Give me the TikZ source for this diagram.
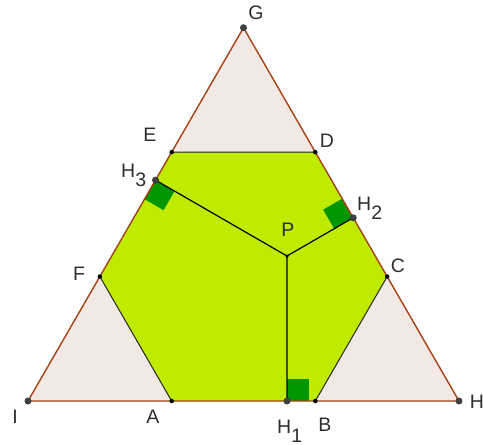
\documentclass[tikz,border=0pt]{standalone}
\usepackage{fontspec}
\setmainfont{Liberation Sans}
\usetikzlibrary{calc}

\definecolor{edgebrown}{RGB}{165,65,20}
\definecolor{cornerpink}{RGB}{243,233,228}
\definecolor{hexgreen}{RGB}{191,235,0}
\definecolor{anglegreen}{RGB}{0,150,0}
\definecolor{ptgrey}{RGB}{64,64,64}
\definecolor{lblgrey}{RGB}{45,45,45}

\newcommand{\lowidx}[1]{\raisebox{-9pt}{#1}}

\begin{document}
\begin{tikzpicture}[x=1pt, y=-1pt,
  bigpt/.style={circle, fill=ptgrey, inner sep=0pt, minimum size=7pt},
  smallpt/.style={circle, fill=black, inner sep=0pt, minimum size=4.5pt},
  lbl/.style={text=lblgrey, font=\fontsize{19.5}{22}\selectfont, inner sep=0pt},
  rside/.style={draw=edgebrown, line width=1.4pt, line join=round},
  hexedge/.style={draw=black!85, line width=1pt},
  seg/.style={draw=black, line width=1.2pt},
  rangle/.style={fill=anglegreen}
]
\useasboundingbox (0,0) rectangle (483,445);

% triangle
\coordinate (I) at (28,401);
\coordinate (H) at (459,401);
\coordinate (G) at (243.5,27.7);

% hexagon (trisection points)
\coordinate (A) at ($(I)!1/3!(H)$);
\coordinate (B) at ($(I)!2/3!(H)$);
\coordinate (C) at ($(H)!1/3!(G)$);
\coordinate (D) at ($(H)!2/3!(G)$);
\coordinate (E) at ($(G)!1/3!(I)$);
\coordinate (F) at ($(G)!2/3!(I)$);

% point and feet
\coordinate (P) at (287,256);
\coordinate (H1) at ($(I)!(P)!(H)$);
\coordinate (H2) at ($(G)!(P)!(H)$);
\coordinate (H3) at ($(I)!(P)!(G)$);

\fill[cornerpink] (I) -- (H) -- (G) -- cycle;
\fill[hexgreen] (A) -- (B) -- (C) -- (D) -- (E) -- (F) -- cycle;
\draw[hexedge] (F) -- (A) (B) -- (C) (D) -- (E);

% right angles
\coordinate (r1a) at ($(H1)!22pt!(H)$);
\coordinate (r1b) at ($(H1)!22pt!(P)$);
\fill[rangle] (H1) -- (r1a) -- ($(r1a)+(r1b)-(H1)$) -- (r1b) -- cycle;
\coordinate (r2a) at ($(H2)!22pt!(G)$);
\coordinate (r2b) at ($(H2)!22pt!(P)$);
\fill[rangle] (H2) -- (r2a) -- ($(r2a)+(r2b)-(H2)$) -- (r2b) -- cycle;
\coordinate (r3a) at ($(H3)!22pt!(I)$);
\coordinate (r3b) at ($(H3)!22pt!(P)$);
\fill[rangle] (H3) -- (r3a) -- ($(r3a)+(r3b)-(H3)$) -- (r3b) -- cycle;

\draw[seg] (P) -- (H1) (P) -- (H2) (P) -- (H3);
\draw[rside] (I) -- (H) -- (G) -- cycle;

% points
\node[bigpt] (pI) at (I) {};
\node[bigpt] (pH) at (H) {};
\node[bigpt] (pG) at (G) {};
\node[bigpt] (pH1) at (H1) {};
\node[bigpt] (pH2) at (H2) {};
\node[bigpt] (pH3) at (H3) {};
\node[smallpt] (pA) at (A) {};
\node[smallpt] (pB) at (B) {};
\node[smallpt] (pC) at (C) {};
\node[smallpt] (pD) at (D) {};
\node[smallpt] (pE) at (E) {};
\node[smallpt] (pF) at (F) {};
\node[smallpt, minimum size=3.5pt] (pP) at (P) {};

% labels
\node[lbl] (lI) at (15,417) {I};
\node[lbl] (lA) at (153,417) {A};
\node[lbl, anchor=base west] (lH1) at (277,433) {H\lowidx{1}};
\node[lbl] (lB) at (325,425) {B};
\node[lbl] (lH) at (477,402) {H};
\node[lbl] (lG) at (256,13) {G};
\node[lbl] (lE) at (150,135) {E};
\node[lbl] (lD) at (327,141) {D};
\node[lbl, anchor=base west] (lH3) at (121,177) {H\lowidx{3}};
\node[lbl, anchor=base west] (lH2) at (357,210) {H\lowidx{2}};
\node[lbl] (lP) at (288,230) {P};
\node[lbl] (lF) at (79,274) {F};
\node[lbl] (lC) at (398,266) {C};
\end{tikzpicture}
\end{document}
